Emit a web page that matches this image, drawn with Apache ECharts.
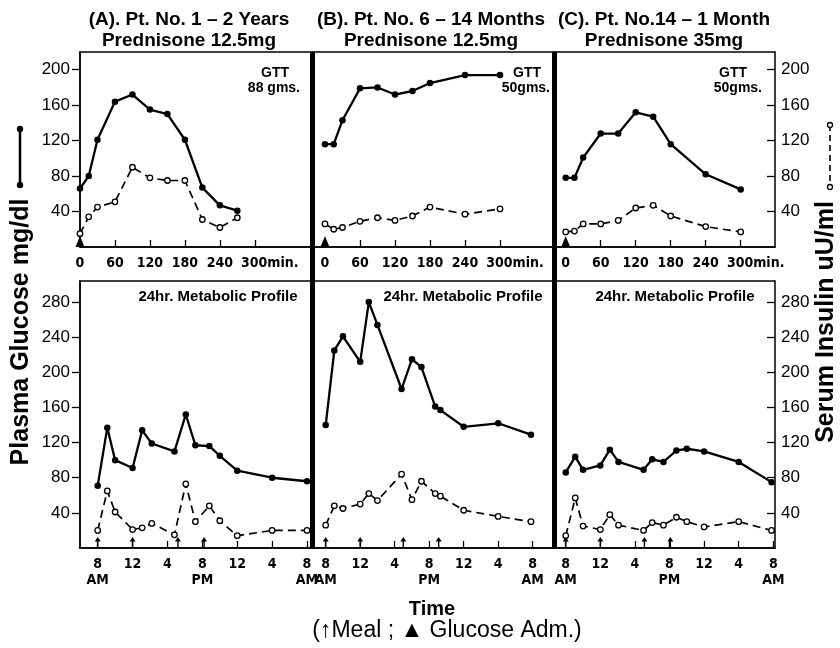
<!DOCTYPE html>
<html><head><meta charset="utf-8">
<script src="https://cdn.jsdelivr.net/npm/echarts@6/dist/echarts.min.js"></script>
<style>html,body{margin:0;padding:0;background:#fff}#c{width:840px;height:648px}</style>
</head><body><div id="c"></div>
<script>
// ---------- DATA ----------
const gttMinA = [0,15,30,60,90,120,150,180,210,240,270];
const gttGlucoseA = [66,80,121,164,172,155,150,121,67,47,41];
const gttInsulinA = [15,34,45,51,90,78,75,75,31,22,33];
const gttMinBC = [0,15,30,60,90,120,150,180,240,300];
const gttGlucoseB = [116,116,143,179,180,172,176,185,194,194];
const gttInsulinB = [26,20,22,29,33,30,35,45,37,43];
const gttGlucoseC = [78,78,101,128,128,152,147,116,82,65];
const gttInsulinC = [17,18,26,26,30,44,47,35,23,17];

const hoursA = [0,1.1,2,4,5.1,6.2,8.8,10.1,11.2,12.8,14,16,20,24];
const profGlucoseA = [71,137,100,91,134,119,110,152,117,116,105,88,80,76];
const profInsulinA = [20,65,41,21,23,28,15,73,30,48,31,14,20,20];
const hoursB = [0,1,2,4,5,6,8.8,10,11.1,12.7,13.3,16,20,23.8];
const profGlucoseB = [140,225,241,212,280,254,181,215,206,161,157,138,142,129];
const profInsulinB = [26,48,45,50,62,54,84,55,76,62,59,43,36,30];
const hoursC = [0,1.1,2,4,5.1,6.1,9,10,11.3,12.8,14,16,20,23.8];
const profGlucoseC = [86,104,89,94,112,98,89,101,98,111,113,110,98,75];
const profInsulinC = [14,57,25,21,38,26,20,29,26,35,30,24,30,20];

const mealA = [0,4,9.2,12.2];
const mealB = [0,4,9,13.1];
const mealC = [0,4,9.1,12.1];
const glucoseAdm = [0];

const gttTickValues = [0,60,120,180,240,300];
const profTickValues = [0,4,8,12,16,20,24];
const profTickLabels = ['8\nAM','12','4','8\nPM','12','4','8\nAM'];
const yTicksTop = [40,80,120,160,200];
const yTicksBottom = [40,80,120,160,200,240,280];

const panelTitles = [['(A). Pt. No. 1 – 2 Years','Prednisone 12.5mg'],['(B). Pt. No. 6 – 14 Months','Prednisone 12.5mg'],['(C). Pt. No.14 – 1 Month','Prednisone 35mg']];
const gttNotes = [['GTT','88 gms.'],['GTT','50gms.'],['GTT','50gms.']];
const profileNote = '24hr. Metabolic Profile';

// ---------- LAYOUT ----------
const SANS = '"Liberation Sans", Arial, sans-serif';
const NARROW = '"DejaVu Sans Condensed", sans-serif';
const cols = [{left:80,width:232.5},{left:312.5,width:242},{left:554.5,width:220.5}];
const topRow = {top:52, height:195};
const botRow = {top:281, height:267};
const topX = [[0,399],[-21.4,393.4],[-19.2,358.8]];
const botX = [[-2.03,24.63],[-1.53,26.53],[-1.30,24.2]];

const grids = [], xAxes = [], yAxes = [], series = [];
function z(a,b){return a.map((v,i)=>[v,b[i]]);}
const arrowPath = 'path://M3,0 L6,5 L3.7,5 L3.7,12 L2.3,12 L2.3,5 L0,5 Z';

for (let r=0;r<2;r++){
  for (let c=0;c<3;c++){
    const row = r===0?topRow:botRow;
    grids.push({left:cols[c].left, width:cols[c].width, top:row.top, height:row.height,
      show:true, borderColor:'#000', borderWidth:1.5, containLabel:false});
    const gi = grids.length-1;
    if (r===0){
      xAxes.push({gridIndex:gi, type:'value', min:topX[c][0], max:topX[c][1],
        axisLine:{onZero:false, lineStyle:{color:'#000',width:1.5}},
        axisTick:{inside:true,length:7,customValues:gttTickValues.slice(1),lineStyle:{color:'#000',width:1.3}},
        splitLine:{show:false},
        axisLabel:{customValues:gttTickValues, margin:9, color:'#000', fontFamily:NARROW, fontWeight:'bold', fontSize:14,
          formatter:v=> v===300 ? '{a|300min.}' : String(v),
          rich:{a:{padding:[0,0,0,30], fontFamily:NARROW, fontWeight:'bold', fontSize:14, color:'#000'}}}});
    } else {
      xAxes.push({gridIndex:gi, type:'value', min:botX[c][0], max:botX[c][1],
        axisLine:{onZero:false, lineStyle:{color:'#000',width:1.5}},
        axisTick:{inside:true,length:7,customValues:profTickValues,lineStyle:{color:'#000',width:1.3}},
        splitLine:{show:false},
        axisLabel:{customValues:profTickValues, margin:8, color:'#000', fontFamily:NARROW, fontWeight:'bold', fontSize:14, lineHeight:16,
          formatter:v=> profTickLabels[profTickValues.indexOf(Math.round(v))] || ''}});
    }
    const yt = r===0?yTicksTop:yTicksBottom;
    const showY = c!==1;
    yAxes.push({gridIndex:gi, type:'value', min:0, max:r===0?220:304,
      position: c===2?'right':'left',
      axisLine:{show:c===0, onZero:false, lineStyle:{color:'#000',width:1.5}},
      axisTick:{show:showY, inside:c===2, length:8, customValues:yt, lineStyle:{color:'#000',width:1.3}},
      splitLine:{show:false},
      axisLabel:{show:showY, customValues:yt, margin:c===2?6:10, color:'#000', fontFamily:SANS, fontSize:17}});
  }
}

const gttData = [[gttMinA,gttGlucoseA,gttInsulinA],[gttMinBC,gttGlucoseB,gttInsulinB],[gttMinBC,gttGlucoseC,gttInsulinC]];
const profData = [[hoursA,profGlucoseA,profInsulinA],[hoursB,profGlucoseB,profInsulinB],[hoursC,profGlucoseC,profInsulinC]];
const meals = [mealA,mealB,mealC];

function addPair(idx, xs, g, ins){
  series.push({type:'line', xAxisIndex:idx, yAxisIndex:idx, data:z(xs,ins), symbol:'circle', symbolSize:5.5,
    itemStyle:{color:'#fff',borderColor:'#000',borderWidth:1.3},
    lineStyle:{color:'#000',width:1.7,type:[8,5]}, z:3, clip:false, animation:false});
  series.push({type:'line', xAxisIndex:idx, yAxisIndex:idx, data:z(xs,g), symbol:'circle', symbolSize:6.5,
    itemStyle:{color:'#000'}, lineStyle:{color:'#000',width:2.3}, z:4, clip:false, animation:false});
}
for (let c=0;c<3;c++){
  addPair(c, gttData[c][0], gttData[c][1], gttData[c][2]);
  series.push({type:'scatter', xAxisIndex:c, yAxisIndex:c, data:glucoseAdm.map(v=>[v,0]),
    symbol:'triangle', symbolSize:[9,11], symbolOffset:[0,'-50%'], itemStyle:{color:'#000',opacity:1}, z:5, clip:false, animation:false});
  addPair(c+3, profData[c][0], profData[c][1], profData[c][2]);
  series.push({type:'scatter', xAxisIndex:c+3, yAxisIndex:c+3, data:meals[c].map(v=>[v,0]),
    symbol:arrowPath, symbolSize:[6,11], symbolOffset:[0,'-50%'], itemStyle:{color:'#000',opacity:1}, z:5, clip:false, animation:false});
}

// ---------- TEXT / DECORATION ----------
const graphic = [];
const titleX = [189, 431, 664];
panelTitles.forEach((t,i)=>{
  graphic.push({type:'text', x:titleX[i], y:20, style:{text:t[0], fill:'#000', font:'bold 19px '+SANS, align:'center', verticalAlign:'middle'}});
  graphic.push({type:'text', x:titleX[i], y:41, style:{text:t[1], fill:'#000', font:'bold 19px '+SANS, align:'center', verticalAlign:'middle'}});
});
const gttX = [[275,300],[527,550],[733,762]];
gttNotes.forEach((t,i)=>{
  graphic.push({type:'text', x:gttX[i][0], y:73, style:{text:t[0], fill:'#000', font:'bold 14px '+SANS, align:'center', verticalAlign:'middle'}});
  graphic.push({type:'text', x:gttX[i][1], y:88, style:{text:t[1], fill:'#000', font:'bold 14px '+SANS, align:'right', verticalAlign:'middle'}});
});
[218,463,675].forEach(x=>{
  graphic.push({type:'text', x:x, y:297, style:{text:profileNote, fill:'#000', font:'bold 15px '+SANS, align:'center', verticalAlign:'middle'}});
});
// thick separators
graphic.push({type:'rect', shape:{x:310,y:52,width:5,height:496}, style:{fill:'#000'}, z:10});
graphic.push({type:'rect', shape:{x:552,y:52,width:5,height:496}, style:{fill:'#000'}, z:10});
// axis titles
graphic.push({type:'text', x:21, y:332, rotation:Math.PI/2, style:{text:'Plasma Glucose mg/dl', fill:'#000', font:'bold 25px '+SANS, align:'center', verticalAlign:'middle'}});
graphic.push({type:'text', x:826, y:322, rotation:Math.PI/2, style:{text:'Serum Insulin uU/ml', fill:'#000', font:'bold 25px '+SANS, align:'center', verticalAlign:'middle'}});
// legend keys
graphic.push({type:'line', shape:{x1:20,y1:129,x2:20,y2:185}, style:{stroke:'#000',lineWidth:2.5}});
graphic.push({type:'circle', shape:{cx:20,cy:129,r:3.2}, style:{fill:'#000'}});
graphic.push({type:'circle', shape:{cx:20,cy:185,r:3.2}, style:{fill:'#000'}});
graphic.push({type:'line', shape:{x1:830,y1:125,x2:830,y2:187}, style:{stroke:'#000',lineWidth:1.6,lineDash:[6,4]}});
graphic.push({type:'circle', shape:{cx:830,cy:125,r:2.5}, style:{fill:'#fff',stroke:'#000',lineWidth:1.3}});
graphic.push({type:'circle', shape:{cx:830,cy:187,r:2.5}, style:{fill:'#fff',stroke:'#000',lineWidth:1.3}});
// bottom titles
graphic.push({type:'text', x:432, y:609, style:{text:'Time', fill:'#000', font:'bold 20px '+SANS, align:'center', verticalAlign:'middle'}});
graphic.push({type:'text', x:447, y:631, style:{text:'(↑Meal ; ▲ Glucose Adm.)', fill:'#000', font:'23px '+SANS, align:'center', verticalAlign:'middle'}});

const chart = echarts.init(document.getElementById('c'), null, {renderer:'canvas'});
chart.setOption({animation:false, backgroundColor:'#fff', grid:grids, xAxis:xAxes, yAxis:yAxes, series:series, graphic:graphic});
</script></body></html>
